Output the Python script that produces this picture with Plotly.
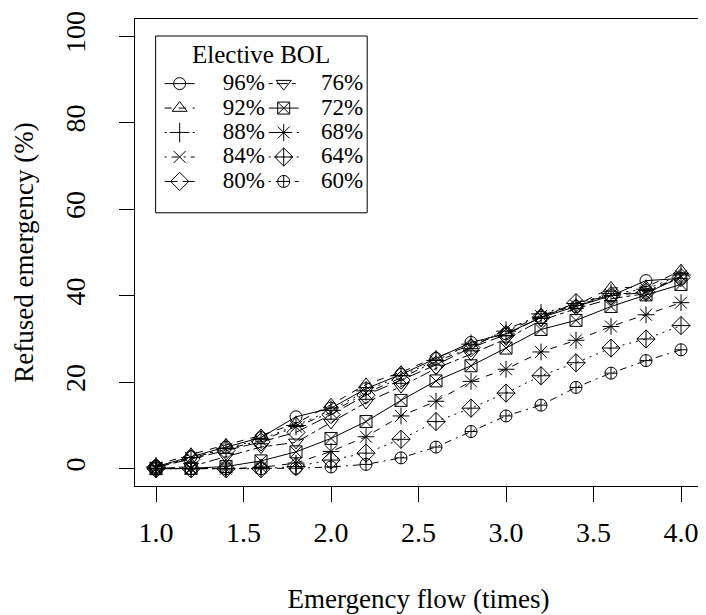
import plotly.graph_objects as go

flow = [1.0, 1.2, 1.4, 1.6, 1.8, 2.0, 2.2, 2.4, 2.6, 2.8, 3.0, 3.2, 3.4, 3.6, 3.8, 4.0]

bol_labels = ["96%", "92%", "88%", "84%", "80%", "76%", "72%", "68%", "64%", "60%"]

refused_96 = [0.5, 2.8, 5.0, 7.2, 12.0, 14.0, 18.5, 21.8, 25.5, 29.2, 31.2, 35.0, 37.5, 40.0, 43.5, 44.0]
refused_92 = [0.8, 3.3, 5.5, 7.7, 10.5, 14.8, 19.5, 22.3, 25.8, 28.5, 31.5, 35.5, 37.8, 41.8, 42.0, 45.8]
refused_88 = [0.4, 2.6, 4.7, 6.8, 10.0, 13.5, 18.0, 21.5, 25.0, 28.8, 31.8, 35.8, 38.2, 40.5, 41.5, 44.8]
refused_84 = [0.3, 2.5, 4.5, 6.5, 9.7, 13.0, 17.5, 21.0, 24.8, 28.0, 32.3, 35.3, 37.7, 40.2, 41.0, 44.5]
refused_80 = [0.3, 2.2, 4.2, 6.2, 8.4, 12.5, 17.0, 20.5, 24.0, 28.0, 31.0, 35.0, 38.4, 40.0, 40.8, 44.2]
refused_76 = [0.0, 0.5, 2.8, 5.0, 6.1, 10.7, 15.3, 19.0, 23.2, 26.5, 30.0, 34.3, 37.0, 39.3, 40.5, 44.5]
refused_72 = [0.0, 0.1, 0.5, 1.8, 3.9, 7.0, 10.9, 15.8, 20.3, 23.8, 27.9, 32.2, 34.3, 37.5, 40.2, 42.6]
refused_68 = [0.0, 0.0, 0.0, 0.3, 1.3, 4.0, 7.4, 12.2, 15.6, 20.2, 23.0, 27.0, 29.7, 32.9, 35.6, 38.4]
refused_64 = [0.0, 0.0, 0.0, 0.0, 0.5, 2.0, 3.6, 6.8, 10.9, 14.0, 17.5, 21.5, 24.5, 27.9, 30.0, 33.1]
refused_60 = [0.0, 0.0, 0.0, 0.0, 0.1, 0.4, 1.0, 2.5, 5.0, 8.6, 12.2, 14.7, 18.8, 22.1, 25.0, 27.5]

series = [refused_96, refused_92, refused_88, refused_84, refused_80,
          refused_76, refused_72, refused_68, refused_64, refused_60]

symbols = ["circle-open", "triangle-up-open", "cross-thin-open", "x-thin-open", "diamond-open",
           "triangle-down-open", "square-x-open", "asterisk-open", "diamond-cross-open", "circle-cross-open"]
sizes = [12, 13, 14, 12, 14, 13, 12, 14, 14, 12]
dashes = ["solid", "7px,7px", "2px,5px", "2px,5px,7px,5px", "13px,5px", "4px,4px,11px,4px",
          "solid", "7px,7px", "2px,5px", "2px,5px,7px,5px"]

FONT = "Liberation Serif"
PAD1 = "\u00a0\u00a0\u00a0\u00a0"
PAD2 = "\u00a0\u00a0\u00a0"

fig = go.Figure()
for i, (lab, ys) in enumerate(zip(bol_labels, series)):
    pad = PAD1 if i < 5 else PAD2
    fig.add_trace(go.Scatter(
        x=flow, y=ys, mode="lines+markers",
        name=f"<span style='font-size:23px'>{pad}{lab}</span>",
        line=dict(color="black", width=1, dash=dashes[i]),
        marker=dict(symbol=symbols[i], size=sizes[i], color="black",
                    line=dict(color="black", width=1)),
        legend="legend" if i < 5 else "legend2",
    ))

axis_common = dict(
    showline=True, linecolor="black", linewidth=1, mirror=True,
    ticks="outside", ticklen=15, tickwidth=1, tickcolor="black",
    showgrid=False, zeroline=False, ticklabeloverflow="allow",
    tickfont=dict(family=FONT, size=28, color="black"),
)

legend_common = dict(
    bgcolor="rgba(0,0,0,0)", borderwidth=0,
    font=dict(family=FONT, size=16.5, color="black"),
    xanchor="left", yanchor="top", tracegroupgap=0,
)

fig.update_layout(
    width=698, height=607,
    margin=dict(l=127, r=3, t=4, b=129),
    paper_bgcolor="white", plot_bgcolor="white",
    font=dict(family=FONT, color="black"),
    xaxis=dict(range=[0.88, 4.12], tickvals=[1.0, 1.5, 2.0, 2.5, 3.0, 3.5, 4.0],
               ticktext=["1.0", "1.5", "2.0", "2.5", "3.0", "3.5", "4.0"],
               ticklabelstandoff=6,
               title=dict(text="Emergency flow (times)", font=dict(family=FONT, size=27), standoff=42),
               **axis_common),
    yaxis=dict(range=[-4, 104], tickvals=[0, 20, 40, 60, 80, 100], tickangle=-90,
               ticklabelstandoff=23,
               title=dict(text="Refused emergency (%)", font=dict(family=FONT, size=27), standoff=18),
               **axis_common),
    legend=dict(x=0.0435, y=0.8985, **legend_common),
    legend2=dict(x=0.227, y=0.8985, **legend_common),
    shapes=[dict(type="rect", xref="paper", yref="paper", x0=0.0364, x1=0.4095, y0=0.585, y1=0.9636,
                 line=dict(color="black", width=1), fillcolor="rgba(0,0,0,0)", layer="above")],
    annotations=[dict(text="Elective BOL", xref="paper", yref="paper", x=0.2229, y=0.924,
                      xanchor="center", yanchor="middle", showarrow=False,
                      font=dict(family=FONT, size=25, color="black"))],
)

fig.write_html("out.html")
